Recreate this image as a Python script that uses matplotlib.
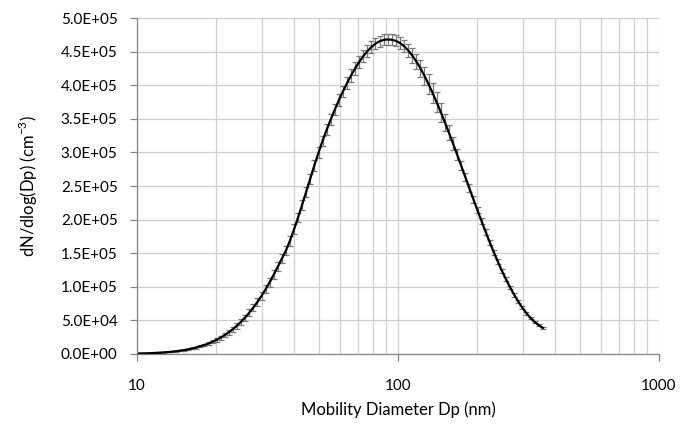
import matplotlib
matplotlib.use("Agg")
import matplotlib.pyplot as plt
from matplotlib.ticker import FixedLocator, NullFormatter

# Mobility diameter channel midpoints (nm)
diameter_nm = [
    10.2, 10.6, 10.9, 11.3, 11.8, 12.2, 12.6, 13.1, 13.6, 14.1,
    14.6, 15.1, 15.7, 16.3, 16.8, 17.5, 18.1, 18.8, 19.5, 20.2,
    20.9, 21.7, 22.5, 23.3, 24.1, 25.0, 25.9, 26.9, 27.9, 28.9,
    30.0, 31.1, 32.2, 33.4, 34.6, 35.9, 37.2, 38.5, 40.0, 41.4,
    42.9, 44.5, 46.1, 47.8, 49.6, 51.4, 53.3, 55.2, 57.3, 59.4,
    61.5, 63.8, 66.1, 68.5, 71.0, 73.7, 76.4, 79.1, 82.0, 85.1,
    88.2, 91.4, 94.7, 98.2, 101.8, 105.5, 109.4, 113.4, 117.6, 121.9,
    126.3, 131.0, 135.8, 140.7, 145.9, 151.2, 156.8, 162.5, 168.5, 174.7,
    181.1, 187.7, 194.6, 201.7, 209.1, 216.7, 224.7, 232.9, 241.4, 250.3,
    259.5, 269.0, 278.8, 289.0, 299.6, 310.6, 322.0, 333.8, 346.0, 358.7,
]

# dN/dlog(Dp) (cm^-3)
dndlogdp = [
    800, 900, 1000, 1250, 1600, 1900, 2300, 2800, 3400, 4100,
    4900, 5750, 6950, 8300, 9500, 11500, 13300, 15700, 18300, 21200,
    24300, 28300, 32500, 37000, 41900, 47700, 54000, 61300, 69100, 77200,
    86600, 96400, 106500, 118000, 129700, 142000, 154000, 168000, 186000, 203000,
    221800, 241600, 260900, 280500, 299800, 317200, 333700, 348700, 364000, 377900,
    390600, 403200, 414400, 424900, 434600, 443500, 450800, 456800, 461800, 465500,
    467500, 468100, 467600, 465900, 462800, 458100, 451900, 444300, 435300, 425200,
    414100, 401500, 388300, 374600, 359900, 344900, 329200, 313300, 296800, 280100,
    263400, 246700, 230100, 213700, 197400, 181700, 166200, 151400, 137300, 123600,
    110900, 99000, 88100, 78000, 68900, 60700, 53600, 47700, 42900, 38900,
]

# Error bar half-heights (cm^-3)
dndlogdp_err = [
    200, 200, 250, 300, 350, 400, 450, 500, 600, 700,
    800, 900, 1000, 1200, 1400, 1600, 1800, 2000, 2300, 2600,
    2900, 3200, 3500, 3800, 4100, 4400, 4700, 5000, 5300, 5600,
    5800, 6000, 6200, 6400, 6600, 6800, 7000, 7000, 7200, 7200,
    7400, 7400, 7600, 7600, 7800, 7800, 8000, 8000, 8200, 8400,
    8600, 8800, 9000, 9000, 9000, 8800, 8600, 8400, 8200, 8000,
    8000, 8000, 8000, 8200, 8400, 8800, 9500, 10500, 11500, 12500,
    13500, 14500, 15000, 15000, 14000, 12500, 11000, 9500, 8000, 7000,
    6200, 5600, 5000, 4600, 4300, 4000, 3800, 3600, 3400, 3200,
    3000, 2800, 2600, 2400, 2200, 2000, 1900, 1800, 1700, 1600,
]

y_ticks = [0, 50000, 100000, 150000, 200000, 250000, 300000, 350000, 400000, 450000, 500000]
y_tick_labels = ["0.0E+00", "5.0E+04", "1.0E+05", "1.5E+05", "2.0E+05", "2.5E+05",
                 "3.0E+05", "3.5E+05", "4.0E+05", "4.5E+05", "5.0E+05"]
x_ticks = [10, 100, 1000]
x_tick_labels = ["10", "100", "1000"]
x_minor = [20, 30, 40, 50, 60, 70, 80, 90, 200, 300, 400, 500, 600, 700, 800, 900]

plt.rcParams['font.family'] = ['Lato', 'DejaVu Sans']

fig = plt.figure(figsize=(6.85, 4.28), dpi=100)
ax = fig.add_axes([0.2, 0.1729, 0.762, 0.785])
ax.set_xscale('log')
ax.set_xlim(10, 1000)
ax.set_ylim(0, 500000)

grid_color = '#cfcfcf'
ax.xaxis.set_major_locator(FixedLocator(x_ticks))
ax.xaxis.set_minor_locator(FixedLocator(x_minor))
ax.xaxis.set_minor_formatter(NullFormatter())
ax.set_xticklabels(x_tick_labels)
ax.set_yticks(y_ticks)
ax.set_yticklabels(y_tick_labels)
ax.grid(True, which='major', axis='both', color=grid_color, lw=0.9)
ax.grid(True, which='minor', axis='x', color=grid_color, lw=0.9)
ax.set_axisbelow(True)

for s in ['top', 'right']:
    ax.spines[s].set_visible(False)
for s in ['left', 'bottom']:
    ax.spines[s].set_color('#868686')
    ax.spines[s].set_linewidth(0.9)

ax.tick_params(axis='both', which='major', colors='#868686', labelcolor='black',
               labelsize=11, length=5, width=0.9, direction='out')
ax.tick_params(axis='x', which='major', pad=13)
ax.tick_params(axis='y', which='major', pad=9)
ax.tick_params(axis='x', which='minor', length=0)

ax.errorbar(diameter_nm, dndlogdp, yerr=dndlogdp_err, fmt='none', ecolor='#7a7a7a',
            elinewidth=0.9, capsize=2.2, capthick=0.9, zorder=3)
ax.plot(diameter_nm, dndlogdp, color='black', lw=1.6, zorder=4)

ax.set_xlabel('Mobility Diameter Dp (nm)', fontsize=12, labelpad=6)
ax.set_ylabel(r'dN/dlog(Dp) (cm$^{\mathregular{-3}}$)', fontsize=12, labelpad=15)

fig.savefig('out.png', dpi=100)
